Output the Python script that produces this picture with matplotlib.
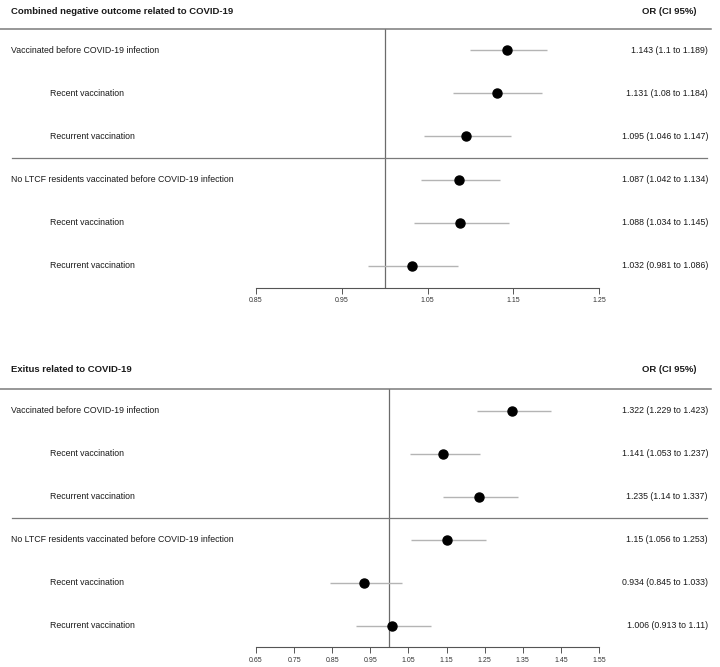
import matplotlib.pyplot as plt
from matplotlib.transforms import blended_transform_factory

plt.rcParams['font.family'] = ['Liberation Sans', 'DejaVu Sans']

labels = ["Vaccinated before COVID-19 infection", "Recent vaccination", "Recurrent vaccination",
          "No LTCF residents vaccinated before COVID-19 infection", "Recent vaccination",
          "Recurrent vaccination"]
indented = [False, True, True, False, True, True]

# combined negative outcome
or_top = [1.143, 1.131, 1.095, 1.087, 1.088, 1.032]
lo_top = [1.1, 1.08, 1.046, 1.042, 1.034, 0.981]
hi_top = [1.189, 1.184, 1.147, 1.134, 1.145, 1.086]
ticks_top = [0.85, 0.95, 1.05, 1.15, 1.25]

# exitus
or_bot = [1.322, 1.141, 1.235, 1.15, 0.934, 1.006]
lo_bot = [1.229, 1.053, 1.14, 1.056, 0.845, 0.913]
hi_bot = [1.423, 1.237, 1.337, 1.253, 1.033, 1.11]
ticks_bot = [0.65, 0.75, 0.85, 0.95, 1.05, 1.15, 1.25, 1.35, 1.45, 1.55]

W, H = 720, 667
fig = plt.figure(figsize=(W / 100, H / 100), dpi=100)

FS = 6.3
FS_HEAD = 6.8
TXT = '#1a1a1a'


def px(x):
    return x / W


def forest(title, ors, los, his, ticks, top_px, bot_px, title_px):
    left, right = 256, 599
    ax = fig.add_axes([px(left), 1 - bot_px / H, px(right - left), (bot_px - top_px) / H])
    ax.set_xlim(ticks[0], ticks[-1])
    ax.set_ylim(5.5, -0.5)
    ys = list(range(len(ors)))

    ax.axvline(1.0, color='#6b6b6b', lw=0.9, zorder=1)
    ax.hlines(ys, los, his, color='#b4b4b4', lw=1.0, zorder=2)
    ax.plot(ors, ys, 'o', color='black', ms=6.5, zorder=3)

    # header and separator lines across the full width
    ax.axhline(-0.5, xmin=-256 / 343, xmax=(711 - 256) / 343, color='#7a7a7a', lw=1.1, clip_on=False)
    ax.axhline(2.5, xmin=(12 - 256) / 343, xmax=(707 - 256) / 343, color='#7a7a7a', lw=0.9, clip_on=False)

    for s in ['top', 'left', 'right']:
        ax.spines[s].set_visible(False)
    ax.spines['bottom'].set_color('#555555')
    ax.spines['bottom'].set_linewidth(0.8)
    ax.set_yticks([])
    ax.set_xticks(ticks)
    ax.set_xticklabels([f"{t:.2f}" for t in ticks])
    ax.tick_params(axis='x', length=4, width=0.7, color='#555555', labelsize=5,
                   labelcolor='#333333', pad=3)

    tr = blended_transform_factory(fig.transFigure, ax.transData)
    for i, lab in enumerate(labels):
        x0 = 50 if indented[i] else 11
        ax.text(px(x0), i, lab, transform=tr, ha='left', va='center', fontsize=FS, color=TXT)
        ax.text(px(708), i, f"{ors[i]} ({los[i]} to {his[i]})", transform=tr, ha='right',
                va='center', fontsize=FS, color=TXT)

    fig.text(px(11), 1 - title_px / H, title, ha='left', va='center', fontsize=FS_HEAD,
             fontweight='bold', color=TXT)
    fig.text(px(697), 1 - title_px / H, "OR (CI 95%)", ha='right', va='center', fontsize=FS_HEAD,
             fontweight='bold', color=TXT)
    return ax


forest("Combined negative outcome related to COVID-19", or_top, lo_top, hi_top, ticks_top,
       28.5, 287.5, 11)
forest("Exitus related to COVID-19", or_bot, lo_bot, hi_bot, ticks_bot,
       389, 647, 370)

fig.savefig('out.png', dpi=100, facecolor='white')
